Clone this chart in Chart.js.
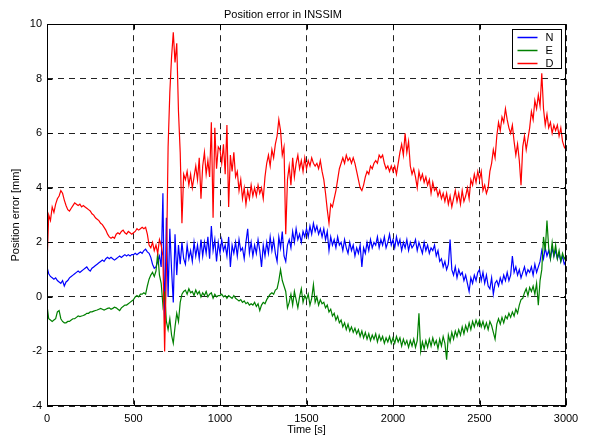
<!DOCTYPE html>
<html>
<head>
<meta charset="utf-8">
<title>Position error in INSSIM</title>
<script src="https://cdn.jsdelivr.net/npm/chart.js@4/dist/chart.umd.min.js"></script>
<style>
  html, body { margin: 0; padding: 0; background: #fff; }
  #wrap { width: 590px; height: 437px; }
</style>
</head>
<body>
<div id="wrap"><canvas id="posError" width="590" height="437"></canvas></div>
<script>
// Position error, sampled every 10 s from 0 to 3000 s (one row = 100 s)
const timeStep = 10;
const seriesNames = ["N", "E", "D"];
const seriesColors = ["#0000ff", "#008000", "#ff0000"];

const errN = [
  1.1, 0.85, 0.75, 0.7, 0.65, 0.7, 0.6, 0.55, 0.5, 0.6,
  0.4, 0.55, 0.6, 0.7, 0.75, 0.8, 0.85, 0.9, 0.95, 0.9,
  0.95, 1.0, 1.05, 1.1, 1.0, 0.95, 1.05, 1.1, 1.15, 1.2,
  1.25, 1.3, 1.35, 1.3, 1.4, 1.45, 1.4, 1.45, 1.4, 1.35,
  1.4, 1.45, 1.5, 1.45, 1.5, 1.55, 1.5, 1.55, 1.5, 1.55,
  1.55, 1.6, 1.55, 1.6, 1.65, 1.6, 1.7, 1.75, 1.65, 1.6,
  1.45, 1.2, 1.05, 1.1, 1.3, 1.5, 1.1, 3.8, -1.0, 2.9,
  0.0, 2.5, 1.0, -0.2, 2.3, 0.8, 1.9, 1.2, 2.0, 1.4,
  1.2, 1.9, 1.4, 1.7, 1.3, 2.0, 1.5, 1.9, 1.4, 2.1,
  1.5, 2.0, 1.6, 2.2, 1.4, 2.6, 1.7, 2.1, 1.3, 2.0,
  1.6, 2.1, 1.7, 1.9, 1.5, 2.2, 1.1, 1.9, 1.6, 2.0,
  1.5, 2.1, 1.7, 1.8, 1.4, 2.0, 2.5, 1.6, 2.0, 1.5,
  1.9, 1.6, 2.1, 1.7, 1.1, 1.9, 1.5, 2.0, 1.6, 2.2,
  1.7, 2.1, 1.6, 1.3, 2.2, 1.8, 2.4, 1.5, 1.3, 1.9,
  2.1, 1.8, 2.4, 2.0, 2.5, 2.1, 2.3, 2.0, 2.4, 2.2,
  2.5, 2.2, 2.6, 2.3, 2.7, 2.4, 2.6, 2.3, 2.5, 2.2,
  2.5, 2.1, 2.4, 1.7, 2.2, 1.9, 2.1, 1.8, 2.2, 1.9,
  2.0, 1.7, 2.1, 1.8, 1.6, 2.0, 1.7, 1.9, 1.5, 1.8,
  1.6, 1.9, 1.1, 1.8, 1.6, 2.0, 1.7, 2.1, 1.8, 2.0,
  1.9, 2.2, 1.8, 2.1, 1.9, 2.2, 1.8, 2.0, 2.3, 1.9,
  2.1, 1.8, 2.2, 1.9, 2.1, 1.7, 2.0, 1.8, 2.1, 1.7,
  2.0, 1.8, 1.9, 2.1, 1.7, 2.0, 1.8, 1.6, 2.0, 1.7,
  1.9, 1.6, 1.8, 1.7, 1.9, 1.5, 1.7, 1.3, 1.4, 1.1,
  1.3, 1.0, 1.2, 2.1, 1.0, 0.8, 1.1, 0.7, 1.0, 0.8,
  0.9, 0.6, 0.8, 0.5, 0.2, 0.7, 0.5, 0.8, 0.6, 0.9,
  1.0, 0.6, 0.9, 0.5, 0.8, 0.4, 0.3, 0.7, 0.1, 0.5,
  0.6, 0.4, 0.7, 0.5, 0.8, 0.6, 0.9, 0.6, 0.8, 1.5,
  0.9, 1.1, 0.8, 1.0, 0.7, 0.9, 1.1, 0.8, 1.0, 0.9,
  1.1, 0.8, 1.2, 0.9, 1.1, 1.3, 1.7, 1.4, 1.8, 1.5,
  1.7, 1.4, 1.8, 1.5, 1.7, 1.4, 1.6, 1.3, 1.5, 1.2,
  1.3
];

const errE = [
  -0.3, -0.8, -0.85, -0.9, -0.85, -0.8, -0.55, -0.5, -0.8, -0.9,
  -0.95, -0.95, -0.9, -0.9, -0.85, -0.8, -0.8, -0.75, -0.7, -0.72,
  -0.7, -0.68, -0.65, -0.6, -0.6, -0.55, -0.55, -0.52, -0.5, -0.48,
  -0.45, -0.42, -0.45, -0.48, -0.45, -0.42, -0.4, -0.45, -0.42, -0.38,
  -0.4, -0.45, -0.5, -0.4, -0.35, -0.3, -0.3, -0.25, -0.2, -0.15,
  -0.1, 0.0, 0.05, 0.0, 0.1, 0.1, 0.15, 0.1, 0.4, 0.65,
  0.8, 0.9, 0.75, 0.95, 1.6, 0.8, 0.5, -0.3, 0.2, -0.9,
  -1.2, -0.8, -1.4, -1.7, -1.1, -0.6, -0.9, -0.2, 0.1, 0.2,
  0.25, 0.1, 0.3, 0.15, 0.2, 0.05, 0.25, 0.1, 0.2, 0.0,
  0.15, 0.05, 0.2, 0.0, 0.1, 0.15, -0.05, 0.1, 0.0, 0.05,
  0.05, 0.1, 0.0, 0.05, -0.05, 0.05, 0.0, -0.05, 0.05, -0.05,
  -0.1, -0.15, -0.1, -0.2, -0.15, -0.25, -0.2, -0.3, -0.25, -0.3,
  -0.2, -0.35, -0.25, -0.5, -0.3, -0.2, -0.25, -0.1, 0.0, 0.1,
  0.15, 0.1, 0.25, 0.3, 0.6, 1.0, 0.6, 0.4, 0.2, -0.4,
  -0.2, 0.1, -0.3, 0.2, -0.1, -0.4, 0.0, 0.3, -0.2, 0.05,
  -0.1, 0.1, -0.3, -0.05, 0.45, -0.2, 0.0, -0.3, -0.1, -0.25,
  -0.2, -0.4, -0.3, -0.55, -0.45, -0.7, -0.6, -0.85, -0.7, -0.95,
  -0.85, -1.1, -0.95, -1.2, -1.0, -1.25, -1.1, -1.3, -1.15, -1.35,
  -1.2, -1.45, -1.25, -1.5, -1.3, -1.55, -1.35, -1.6, -1.4, -1.55,
  -1.35, -1.65, -1.4, -1.6, -1.45, -1.7, -1.5, -1.65, -1.45, -1.7,
  -1.5, -1.7, -1.45, -1.65, -1.5, -1.8, -1.55, -1.75, -1.6, -1.85,
  -1.6, -1.8, -1.55, -1.85, -1.6, -0.6, -2.0, -1.65, -1.9, -1.6,
  -1.85, -1.55, -1.8, -1.5, -1.75, -1.6, -1.9, -1.55, -1.8, -1.45,
  -1.7, -2.3, -1.4, -1.65, -1.3, -1.55, -1.25, -1.45, -1.2, -1.4,
  -1.1, -1.35, -1.05, -1.25, -0.95, -1.2, -0.9, -1.1, -0.85, -1.05,
  -0.85, -1.1, -0.9, -1.15, -0.95, -1.2, -0.9, -1.05, -1.3, -1.55,
  -1.0, -0.8, -1.0, -0.75, -0.95, -0.7, -0.8, -0.6, -0.75, -0.55,
  -0.7, -0.45, -0.6, -0.3, -0.1, -0.05, 0.15, 0.3, 0.05, 0.35,
  0.2, 0.4, 0.1, 0.5, -0.3, 0.6, 1.0, 2.2, 1.7, 2.8,
  1.8, 1.4, 2.0, 1.5, 1.9, 1.4, 1.7, 1.3, 1.6, 1.4,
  1.5
];

const errD = [
  1.2, 3.0, 2.8, 3.3, 3.1, 3.4, 3.6, 3.7, 3.9, 3.8,
  3.55, 3.35, 3.2, 3.15, 3.25, 3.35, 3.45, 3.4, 3.35, 3.4,
  3.3, 3.35, 3.3, 3.25, 3.2, 3.15, 3.05, 3.0, 2.9, 2.85,
  2.8, 2.7, 2.65, 2.55, 2.45, 2.3, 2.2, 2.15, 2.2, 2.15,
  2.3, 2.35, 2.3, 2.4, 2.45, 2.35, 2.3, 2.4, 2.35, 2.3,
  2.35, 2.4, 2.5, 2.45, 2.5, 2.55, 2.5, 2.55, 2.3, 1.9,
  1.8, 2.0, 1.7, 1.9, 1.6, 2.1, 1.9, 1.5, -2.0, 1.0,
  5.5, 7.5, 8.8, 9.7, 8.6, 9.3, 6.8, 5.3, 2.7, 4.5,
  4.3, 4.6, 4.1, 4.5, 4.0, 4.4, 4.8, 4.3, 5.1, 3.6,
  4.8, 5.3, 4.5, 5.0, 4.4, 6.4, 2.9, 6.2, 4.7, 5.5,
  5.4, 4.9, 5.6, 4.5, 6.3, 3.3, 5.2, 4.6, 5.3, 4.4,
  4.6, 3.9, 4.3, 3.6, 4.0, 3.4, 3.9, 3.6, 4.1, 3.7,
  4.0, 3.7, 4.1, 3.8, 4.0, 3.6, 4.4, 4.9, 5.2, 4.8,
  5.4, 5.1, 5.6, 5.9, 6.5, 6.1, 5.2, 5.5, 2.3, 4.3,
  4.8, 4.1, 5.1, 4.4, 4.9, 5.2, 4.7, 5.0, 4.6, 5.1,
  4.7, 5.0, 4.8, 5.1, 4.9, 4.8, 4.9, 4.7, 5.0, 4.6,
  4.3, 3.8, 3.2, 2.7, 3.4, 3.3, 3.6, 3.9, 4.3, 4.7,
  4.9, 5.1, 4.9, 5.2, 5.0, 5.1, 4.9, 5.1, 4.9, 4.6,
  4.3, 4.0, 3.9, 4.1, 4.4, 4.6, 4.5, 4.8, 4.7, 4.9,
  5.0, 4.9, 5.2, 5.1, 5.2, 4.9, 4.7, 4.8, 4.6, 4.8,
  4.6, 4.8, 4.5, 4.9, 5.3, 5.6, 5.2, 6.0, 5.3, 5.7,
  4.8, 4.5, 4.7, 4.4, 4.0, 4.6, 4.3, 4.5, 4.2, 4.4,
  4.1, 4.3, 3.8, 4.2, 3.9, 4.0, 3.7, 3.9, 3.6, 3.8,
  3.5, 3.8, 3.4, 3.7, 3.3, 3.6, 3.9, 3.5, 3.8, 3.4,
  3.9, 3.5, 3.7, 4.0, 3.6, 4.3, 4.1, 4.5, 4.2, 4.6,
  4.3, 4.6, 3.9, 4.1, 3.8, 4.0, 4.6, 4.9, 5.4, 5.1,
  5.9, 6.4, 6.1, 6.6, 6.4, 6.9, 6.5, 6.2, 6.0, 6.3,
  5.7, 5.2, 5.6, 5.0, 4.1, 5.5, 5.9, 5.4, 5.8, 6.2,
  6.8, 6.5, 7.2, 6.9, 7.4, 7.0, 8.2, 6.9, 6.3, 6.7,
  6.2, 6.4, 6.0, 6.3, 6.1, 6.3, 5.9, 6.2, 5.7, 5.5,
  5.4
];

const fontFamily = "'Liberation Sans', Arial, Helvetica, sans-serif";

function toPoints(values) {
  return values.map((v, i) => ({ x: i * timeStep, y: v }));
}

// MATLAB style axes box, inward ticks and an inset legend
const axesBoxPlugin = {
  id: "axesBox",
  afterDraw(chart) {
    const ctx = chart.ctx;
    const area = chart.chartArea;
    const xs = chart.scales.x;
    const ys = chart.scales.y;
    ctx.save();
    ctx.strokeStyle = "#000";
    ctx.lineWidth = 1;
    ctx.setLineDash([]);
    const l = Math.round(area.left) + 0.5;
    const r = Math.round(area.right) - 0.5;
    const t = Math.round(area.top) + 0.5;
    const b = Math.round(area.bottom) - 0.5;
    ctx.strokeRect(l, t, r - l, b - t);

    ctx.beginPath();
    xs.ticks.forEach((tk) => {
      const px = Math.round(xs.getPixelForValue(tk.value)) + 0.5;
      ctx.moveTo(px, t);
      ctx.lineTo(px, t + 5);
      ctx.moveTo(px, b);
      ctx.lineTo(px, b - 5);
    });
    ys.ticks.forEach((tk) => {
      const py = Math.round(ys.getPixelForValue(tk.value)) + 0.5;
      ctx.moveTo(l, py);
      ctx.lineTo(l + 5, py);
      ctx.moveTo(r, py);
      ctx.lineTo(r - 5, py);
    });
    ctx.stroke();

    // legend
    const bw = 49, bh = 39;
    const bx = Math.round(area.right) - 5 - bw + 0.5;
    const by = Math.round(area.top) + 5 + 0.5;
    ctx.fillStyle = "#fff";
    ctx.fillRect(bx, by, bw, bh);
    ctx.strokeStyle = "#000";
    ctx.strokeRect(bx, by, bw, bh);
    ctx.font = "11px " + fontFamily;
    ctx.textBaseline = "middle";
    ctx.textAlign = "left";
    for (let i = 0; i < seriesNames.length; i++) {
      const ly = by + 8 + i * 13;
      ctx.beginPath();
      ctx.lineWidth = 1.5;
      ctx.strokeStyle = seriesColors[i];
      ctx.moveTo(bx + 5, ly);
      ctx.lineTo(bx + 25, ly);
      ctx.stroke();
      ctx.fillStyle = "#000";
      ctx.fillText(seriesNames[i], bx + 33, ly);
    }
    ctx.restore();
  },
};

const seriesValues = [errN, errE, errD];

new Chart(document.getElementById("posError"), {
  type: "line",
  data: {
    datasets: seriesNames.map((name, i) => ({
      label: name,
      data: toPoints(seriesValues[i]),
      borderColor: seriesColors[i],
      backgroundColor: seriesColors[i],
      borderWidth: 1.2,
      pointRadius: 0,
      tension: 0,
      fill: false,
      order: 3 - i,
    })),
  },
  options: {
    responsive: false,
    animation: false,
    events: [],
    layout: { padding: { left: 0, right: 24, top: 0, bottom: 0 } },
    plugins: {
      legend: { display: false },
      tooltip: { enabled: false },
      title: {
        display: true,
        text: "Position error in INSSIM",
        color: "#000",
        font: { family: fontFamily, size: 11, weight: "normal" },
        padding: { top: 8, bottom: 3 },
      },
    },
    scales: {
      x: {
        type: "linear",
        min: 0,
        max: 3000,
        afterFit: (s) => { s.height = 31; },
        ticks: {
          stepSize: 500,
          color: "#000",
          padding: 6,
          maxRotation: 0,
          font: { family: fontFamily, size: 11 },
          callback: (v) => String(v),
        },
        grid: { color: "#222", lineWidth: 1, drawTicks: false },
        border: { display: false, dash: [6, 5] },
        title: {
          display: true,
          text: "Time [s]",
          color: "#000",
          font: { family: fontFamily, size: 11 },
          padding: { top: 0, bottom: 0 },
        },
      },
      y: {
        type: "linear",
        min: -4,
        max: 10,
        afterFit: (s) => { s.width = 47; },
        ticks: {
          stepSize: 2,
          color: "#000",
          padding: 5,
          font: { family: fontFamily, size: 11 },
          callback: (v) => String(v),
        },
        grid: { color: "#222", lineWidth: 1, drawTicks: false },
        border: { display: false, dash: [6, 5] },
        title: {
          display: true,
          text: "Position error [mm]",
          color: "#000",
          font: { family: fontFamily, size: 11 },
          padding: { top: 9, bottom: 0 },
        },
      },
    },
  },
  plugins: [axesBoxPlugin],
});
</script>
</body>
</html>
